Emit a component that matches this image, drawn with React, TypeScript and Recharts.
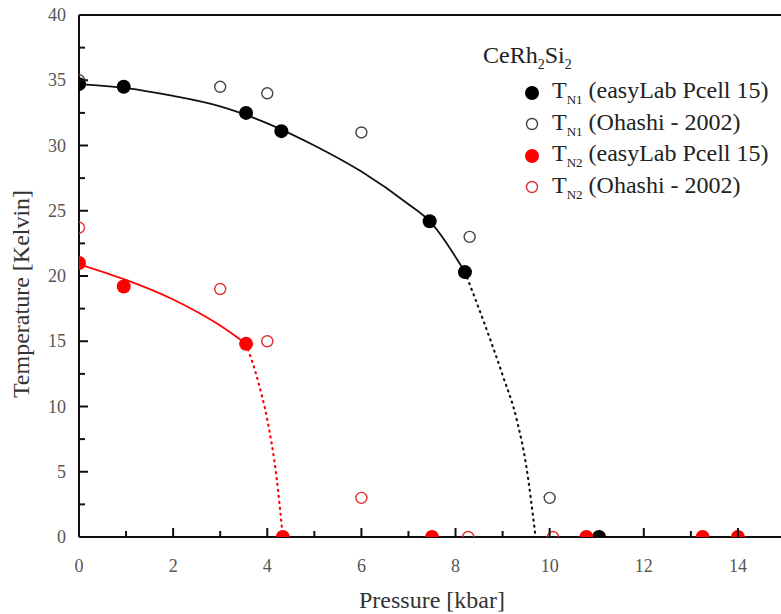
import React from 'react';
import {
    ComposedChart, Line, Scatter, XAxis, YAxis, ReferenceLine, Legend,
} from 'recharts';

// T_N1, this work (filled black)
const tn1Lab = [
    { x: 0, y: 34.7 }, { x: 0.95, y: 34.5 }, { x: 3.55, y: 32.5 }, { x: 4.3, y: 31.1 },
    { x: 7.45, y: 24.2 }, { x: 8.2, y: 20.3 }, { x: 11.05, y: 0 },
];
// T_N1, Ohashi 2002 (open black)
const tn1Ohashi = [
    { x: 0, y: 35 }, { x: 3, y: 34.5 }, { x: 4, y: 34 }, { x: 6, y: 31 },
    { x: 8.3, y: 23 }, { x: 10, y: 3 },
];
// T_N2, this work (filled red)
const tn2Lab = [
    { x: 0, y: 21 }, { x: 0.95, y: 19.2 }, { x: 3.55, y: 14.8 }, { x: 4.33, y: 0 },
    { x: 7.5, y: 0 }, { x: 10.78, y: 0 }, { x: 13.25, y: 0 }, { x: 14, y: 0 },
];
// T_N2, Ohashi 2002 (open red)
const tn2Ohashi = [
    { x: 0, y: 23.7 }, { x: 3, y: 19 }, { x: 4, y: 15 }, { x: 6, y: 3 },
    { x: 8.27, y: 0 }, { x: 10.07, y: 0 },
];

// guide-to-the-eye curves
const tn1Fit = [
    { x: 0, y: 34.7 }, { x: 1, y: 34.4 }, { x: 2, y: 33.8 }, { x: 3, y: 33.0 },
    { x: 4, y: 31.7 }, { x: 5, y: 30.0 }, { x: 6, y: 28.0 }, { x: 7, y: 25.5 },
    { x: 7.45, y: 24.2 }, { x: 8.2, y: 20.3 },
];
const tn1Extrap = [
    { x: 8.2, y: 20.3 }, { x: 8.6, y: 16.5 }, { x: 9.0, y: 12.4 }, { x: 9.3, y: 9 },
    { x: 9.5, y: 5.5 }, { x: 9.7, y: 0 },
];
const tn2Fit = [
    { x: 0, y: 20.9 }, { x: 1, y: 19.7 }, { x: 2, y: 18.2 }, { x: 3, y: 16.2 },
    { x: 3.55, y: 14.8 },
];
const tn2Extrap = [
    { x: 3.55, y: 14.8 }, { x: 3.8, y: 12 }, { x: 4.0, y: 9 }, { x: 4.2, y: 4.5 },
    { x: 4.33, y: 0 },
];

const pressureTicks = [0, 1, 2, 3, 4, 5, 6, 7, 8, 9, 10, 11, 12, 13, 14, 15];
const tempTicks = [0, 2.5, 5, 7.5, 10, 12.5, 15, 17.5, 20, 22.5, 25, 27.5, 30, 32.5, 35, 37.5, 40];

const legendItems = [
    { sub: 'N1', text: ' (easyLab Pcell 15)', fill: '#000', stroke: '#000', open: false },
    { sub: 'N1', text: ' (Ohashi - 2002)', fill: 'none', stroke: '#444', open: true },
    { sub: 'N2', text: ' (easyLab Pcell 15)', fill: '#f00', stroke: '#f00', open: false },
    { sub: 'N2', text: ' (Ohashi - 2002)', fill: 'none', stroke: '#e03030', open: true },
];

const XTick = (props: any) => {
    const { x, y, payload } = props;
    const major = payload.value % 2 === 0;
    return (
        <g>
            <line x1={x} x2={x} y1={y} y2={y - (major ? 9 : 6)} stroke="#111" strokeWidth={2} />
            {major && (
                <text x={x} y={y + 35} textAnchor="middle" fill="#555" fontSize={18}>
                    {payload.value}
                </text>
            )}
        </g>
    );
};

const YTick = (props: any) => {
    const { x, y, payload } = props;
    const major = payload.value % 5 === 0;
    return (
        <g>
            <line x1={x} x2={x + (major ? 9 : 6)} y1={y} y2={y} stroke="#111" strokeWidth={2} />
            {major && (
                <text x={x - 13} y={y + 6} textAnchor="end" fill="#555" fontSize={18}>
                    {payload.value}
                </text>
            )}
        </g>
    );
};

// markers sitting on an axis are cut by the frame, as in the original plot
const dot = (fill: string, stroke: string, r: number, sw: number) => (p: any) => {
    const { cx, cy } = p;
    const src = p.payload ?? {};
    const open = fill === 'none';
    if (src.y === 0) {
        const d = `M${cx - r},${cy} A${r},${r} 0 0 1 ${cx + r},${cy}${open ? '' : ' Z'}`;
        return <path d={d} fill={fill} stroke={stroke} strokeWidth={sw} />;
    }
    if (src.x === 0) {
        const d = `M${cx},${cy - r} A${r},${r} 0 0 1 ${cx},${cy + r}${open ? '' : ' Z'}`;
        return <path d={d} fill={fill} stroke={stroke} strokeWidth={sw} />;
    }
    return <circle cx={cx} cy={cy} r={r} fill={fill} stroke={stroke} strokeWidth={sw} />;
};

const LegendBox = () => (
    <div style={{ color: '#222', fontSize: 24 }}>
        <div style={{ marginLeft: 13, height: 37, lineHeight: '30px' }}>
            CeRh<sub style={{ fontSize: 14 }}>2</sub>Si<sub style={{ fontSize: 14 }}>2</sub>
        </div>
        {legendItems.map((it, i) => (
            <div key={i} style={{ display: 'flex', alignItems: 'center', height: 31.5 }}>
                <svg width={16} height={16} style={{ marginLeft: 54 }}>
                    <circle cx={8} cy={8} r={it.open ? 5.5 : 7} fill={it.fill} stroke={it.stroke}
                        strokeWidth={it.open ? 1.4 : 0} />
                </svg>
                <span style={{ marginLeft: 12, whiteSpace: 'nowrap' }}>
                    T<sub style={{ fontSize: 13 }}>{it.sub}</sub>{it.text}
                </span>
            </div>
        ))}
    </div>
);

export default function App() {
    return (
        <div style={{ position: 'absolute', left: 0, top: 0, width: 781, height: 614, overflow: 'hidden', background: '#fff' }}>
            <ComposedChart width={800} height={614} margin={{ top: 15, right: 15, bottom: 0, left: 0 }}>
                <XAxis
                    type="number"
                    dataKey="x"
                    domain={[0, 15]}
                    ticks={pressureTicks}
                    interval={0}
                    height={77}
                    tickSize={0}
                    tickMargin={0}
                    tickLine={false}
                    tick={<XTick />}
                    axisLine={{ stroke: '#111', strokeWidth: 2 }}
                    allowDataOverflow
                    label={{
                        value: 'Pressure [kbar]', position: 'insideBottom', offset: 6,
                        style: { fill: '#333', fontSize: 24 },
                    }}
                />
                <YAxis
                    type="number"
                    dataKey="y"
                    domain={[0, 40]}
                    ticks={tempTicks}
                    interval={0}
                    width={79}
                    tickSize={0}
                    tickMargin={0}
                    tickLine={false}
                    tick={<YTick />}
                    axisLine={{ stroke: '#111', strokeWidth: 2 }}
                    allowDataOverflow
                    label={{
                        value: 'Temperature [Kelvin]', angle: -90, position: 'insideLeft', offset: 20, dy: 18,
                        style: { fill: '#333', fontSize: 24, textAnchor: 'middle' },
                    }}
                />
                <ReferenceLine y={40} stroke="#111" strokeWidth={2} />
                <Legend layout="vertical" align="center" verticalAlign="middle" content={<LegendBox />}
                    wrapperStyle={{ position: 'absolute', left: 470, top: 40, width: 330 }} />

                <Line data={tn1Fit} dataKey="y" type="monotone" stroke="#111" strokeWidth={1.8} dot={false}
                    legendType="none" isAnimationActive={false} />
                <Line data={tn1Extrap} dataKey="y" type="monotone" stroke="#111" strokeWidth={2.2}
                    strokeDasharray="1 5" strokeLinecap="round" dot={false} legendType="none" isAnimationActive={false} />
                <Line data={tn2Fit} dataKey="y" type="monotone" stroke="#f00" strokeWidth={1.8} dot={false}
                    legendType="none" isAnimationActive={false} />
                <Line data={tn2Extrap} dataKey="y" type="monotone" stroke="#f00" strokeWidth={2.2}
                    strokeDasharray="1 5" strokeLinecap="round" dot={false} legendType="none" isAnimationActive={false} />

                <Scatter data={tn1Ohashi} dataKey="y" shape={dot('none', '#444', 5.5, 1.4)} isAnimationActive={false} />
                <Scatter data={tn2Ohashi} dataKey="y" shape={dot('none', '#e03030', 5.5, 1.4)} isAnimationActive={false} />
                <Scatter data={tn1Lab} dataKey="y" shape={dot('#000', '#000', 7, 0)} isAnimationActive={false} />
                <Scatter data={tn2Lab} dataKey="y" shape={dot('#f00', '#f00', 7, 0)} isAnimationActive={false} />
            </ComposedChart>
        </div>
    );
}
